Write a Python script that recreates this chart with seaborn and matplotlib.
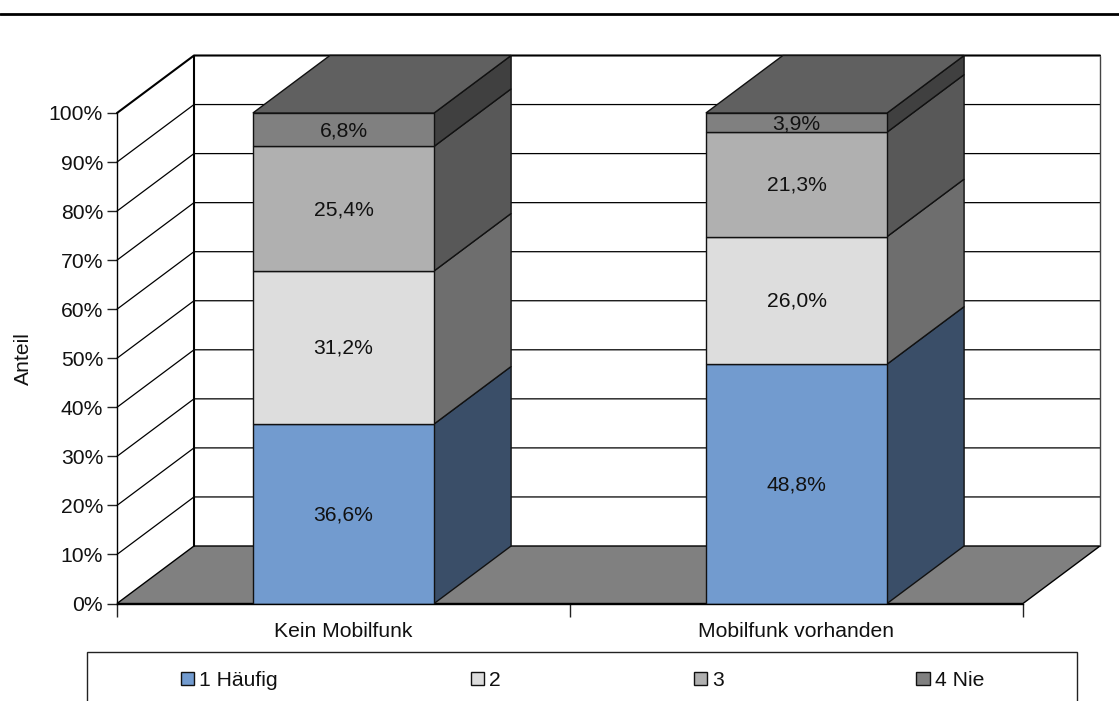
import matplotlib
matplotlib.use('Agg')
import matplotlib.pyplot as plt
from matplotlib.patches import Polygon, Rectangle
from matplotlib.lines import Line2D
import seaborn as sns

# values
categories = ['Kein Mobilfunk', 'Mobilfunk vorhanden']
series_names = ['1 Häufig', '2', '3', '4 Nie']
haeufig = [36.6, 48.8]
zwei = [31.2, 26.0]
drei = [25.4, 21.3]
nie = [6.8, 3.9]
y_ticks = list(range(0, 101, 10))

front_colors = ['#729BCF', '#DDDDDD', '#B0B0B0', '#808080']
side_colors = ['#3A4E68', '#6E6E6E', '#585858', '#404040']
top_color = '#606060'
floor_color = '#808080'

W, H = 1119, 701
sns.set_theme(style='white')
plt.rcParams['font.family'] = ['Liberation Sans', 'DejaVu Sans']
FS = 15.2

fig = plt.figure(figsize=(W / 100, H / 100), dpi=100)
# axes = front plane of the 3D box
left, right, top, bottom = 117, 1023, 113, 603.5
ax = fig.add_axes([left / W, 1 - bottom / H, (right - left) / W, (bottom - top) / H])
ax.patch.set_alpha(0)

# depth of the fake 3D box, in data units
dx = 77 / ((right - left) / 2)
dy = 57.5 / ((bottom - top) / 100)
bar_w = 0.4

x0, x1 = -0.5, 1.5
ax.set_xlim(x0, x1)
ax.set_ylim(0, 100)

# floor, back wall and left wall grid
ax.add_patch(Polygon([(x0, 0), (x0 + dx, dy), (x1 + dx, dy), (x1, 0)], closed=True,
                     facecolor=floor_color, edgecolor='black', lw=1, clip_on=False, zorder=1))
for t in y_ticks[1:]:
    lw = 1.5 if t == 100 else 0.9
    ax.add_line(Line2D([x0, x0 + dx, x1 + dx], [t, t + dy, t + dy], color='black', lw=lw,
                       clip_on=False, zorder=1))
ax.add_line(Line2D([x0 + dx, x0 + dx], [dy, 100 + dy], color='black', lw=1.5, clip_on=False, zorder=1))
ax.add_line(Line2D([x1 + dx, x1 + dx], [dy, 100 + dy], color='#444444', lw=1, clip_on=False, zorder=1))

# front faces through seaborn, side faces and top built on the same values
stack = [haeufig, zwei, drei, nie]
bottoms = [0.0, 0.0]
for vals, name, fc, sc in zip(stack, series_names, front_colors, side_colors):
    sns.barplot(x=categories, y=vals, bottom=bottoms, width=bar_w, color=fc, saturation=1,
                edgecolor='#111111', linewidth=1, label=name, ax=ax, zorder=4)
    for i, v in enumerate(vals):
        b = bottoms[i]
        xr = i + bar_w / 2
        ax.add_patch(Polygon([(xr, b), (xr + dx, b + dy), (xr + dx, b + v + dy), (xr, b + v)],
                             closed=True, facecolor=sc, edgecolor='#111111', lw=1,
                             clip_on=False, zorder=3))
        ax.text(i, b + v / 2 - 0.2, f'{v:.1f}%'.replace('.', ','), ha='center', va='center',
                fontsize=FS, color='#111111', zorder=6)
    bottoms = [b + v for b, v in zip(bottoms, vals)]

for i, b in enumerate(bottoms):
    xl, xr = i - bar_w / 2, i + bar_w / 2
    ax.add_patch(Polygon([(xl, b), (xl + dx, b + dy), (xr + dx, b + dy), (xr, b)], closed=True,
                         facecolor=top_color, edgecolor='#111111', lw=1, clip_on=False, zorder=3))

# axes
ax.set_xlim(x0, x1)
ax.set_ylim(0, 100)
sns.despine(ax=ax, top=True, right=True)
ax.spines['left'].set_linewidth(1)
ax.spines['bottom'].set_linewidth(1)
ax.spines['left'].set_color('black')
ax.spines['bottom'].set_color('black')
ax.spines['bottom'].set_zorder(5)
ax.set_yticks(y_ticks)
ax.set_yticklabels([f'{t}%' for t in y_ticks], fontsize=FS, color='#111111')
ax.tick_params(axis='y', left=True, length=7, width=1, color='#222222', pad=3)
ax.set_xticks([0, 1])
ax.set_xticklabels(categories, fontsize=FS, color='#111111')
ax.tick_params(axis='x', which='major', bottom=False, length=0, pad=13)
ax.set_xticks([x0, 0.5, x1], minor=True)
ax.tick_params(axis='x', which='minor', bottom=True, length=9, width=1, color='#222222')
ax.set_xlabel('')
ax.set_ylabel('Anteil', fontsize=FS, color='#111111')
ax.yaxis.set_label_coords((33 - left) / (right - left), 0.5)

# legend with its box, the box runs off the bottom of the figure
fig.add_artist(Rectangle((87 / W, -10 / H), (1077 - 87) / W, (H - 651.5 + 10) / H,
                         transform=fig.transFigure, facecolor='white', edgecolor='#222222',
                         lw=1, zorder=-1))
handles, labels = ax.get_legend_handles_labels()
leg = ax.legend(handles, labels, ncol=4, loc='center left', frameon=False,
                bbox_to_anchor=(181 / W, 1 - 680.5 / H), bbox_transform=fig.transFigure,
                borderpad=0, borderaxespad=0, fontsize=FS, handlelength=0.62, handleheight=0.62,
                handletextpad=0.25, columnspacing=9.13)
for t in leg.get_texts():
    t.set_color('#111111')

# heavy rule above the chart
fig.add_artist(Line2D([0, 1], [1 - 14 / H, 1 - 14 / H], transform=fig.transFigure, color='black', lw=2))

fig.savefig('out.png', dpi=100)
